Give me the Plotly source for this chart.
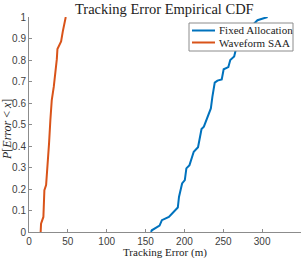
import plotly.graph_objects as go

# Fixed Allocation empirical CDF (tracking error in m, probability)
fixed_x = [157, 158, 168, 171, 180, 191.5, 193, 197, 200.5, 202.5, 206.5, 212, 217.5,
           222, 225, 231, 234, 236, 239, 242.5, 248, 250.5, 256.5, 259, 264, 266,
           272, 280, 287, 294, 307]
fixed_p = [0.0, 0.008, 0.03, 0.055, 0.07, 0.114, 0.163, 0.226, 0.241, 0.296, 0.311, 0.373, 0.394,
           0.479, 0.49, 0.544, 0.575, 0.63, 0.695, 0.704, 0.71, 0.757, 0.767, 0.80, 0.816, 0.847,
           0.88, 0.92, 0.96, 0.985, 1.0]

# Waveform SAA empirical CDF
saa_x = [15, 15.5, 18.5, 19.8, 22, 23.7, 25.8, 27.5, 29.3, 31.9, 34.5, 35.8, 36.6, 40,
         41.3, 43.5, 45.6, 47.3]
saa_p = [0.0, 0.039, 0.07, 0.195, 0.218, 0.288, 0.412, 0.521, 0.614, 0.676, 0.746, 0.804, 0.851, 0.879,
         0.886, 0.933, 0.964, 1.0]

series_names = ["Fixed Allocation", "Waveform SAA"]
series_colors = ["#0072BD", "#D95319"]

x_ticks = [0, 50, 100, 150, 200, 250, 300, 350]
y_ticks = [0, 0.1, 0.2, 0.3, 0.4, 0.5, 0.6, 0.7, 0.8, 0.9, 1]
y_tick_text = ["0", "0.1", "0.2", "0.3", "0.4", "0.5", "0.6", "0.7", "0.8", "0.9", "1"]

W, H = 307, 258
ml, mr, mt, mb = 29, 6, 17, 26
PW, PH = W - ml - mr, H - mt - mb


def px_x(px):
    return (px - ml) / PW


def px_y(py):
    return (H - mb - py) / PH


fig = go.Figure()
for xs, ps, name, color in zip([fixed_x, saa_x], [fixed_p, saa_p], series_names, series_colors):
    fig.add_trace(go.Scatter(x=xs, y=ps, mode="lines", name=name,
                             line=dict(color=color, width=2), showlegend=False))

axis_common = dict(showgrid=False, zeroline=False, showline=True, linecolor="#8c8c8c",
                   linewidth=1, ticks="inside", ticklen=3, tickcolor="#8c8c8c",
                   tickfont=dict(family="Liberation Sans", size=10, color="#404040"),
                   mirror=False)

serif = "Liberation Serif"
shapes = [dict(type="rect", xref="paper", yref="paper",
               x0=px_x(189), x1=px_x(293), y0=px_y(51), y1=px_y(23),
               fillcolor="white", line=dict(color="#8c8c8c", width=1), layer="above")]
annotations = [
    dict(text="Tracking Error Empirical CDF", xref="paper", yref="paper",
         x=px_x(164), y=px_y(8.5), xanchor="center", yanchor="middle", showarrow=False,
         font=dict(family=serif, size=14.5, color="#222222")),
    dict(text="Tracking Error (m)", xref="paper", yref="paper",
         x=px_x(165), y=px_y(252), xanchor="center", yanchor="middle",
         showarrow=False, font=dict(family=serif, size=11, color="#222222")),
    dict(text="<i>P</i>[<i>Error</i> &lt; <i>x</i>]", xref="paper", yref="paper",
         x=px_x(7), y=px_y(130), xanchor="center", yanchor="middle",
         textangle=-90, showarrow=False,
         font=dict(family=serif, size=12, color="#222222")),
]
for i, (name, color) in enumerate(zip(series_names, series_colors)):
    row_y = 30.5 + 12 * i
    shapes.append(dict(type="line", xref="paper", yref="paper",
                       x0=px_x(192), x1=px_x(215), y0=px_y(row_y), y1=px_y(row_y),
                       line=dict(color=color, width=2), layer="above"))
    annotations.append(dict(text=name, xref="paper", yref="paper",
                            x=px_x(217), y=px_y(row_y), xanchor="left", yanchor="middle",
                            showarrow=False,
                            font=dict(family=serif, size=11, color="#222222")))

fig.update_layout(
    width=W, height=H,
    margin=dict(l=ml, r=mr, t=mt, b=mb, autoexpand=False),
    paper_bgcolor="white", plot_bgcolor="white",
    xaxis=dict(range=[0, 350], tickvals=x_ticks, **axis_common),
    yaxis=dict(range=[0, 1], tickvals=y_ticks, ticktext=y_tick_text, **axis_common),
    showlegend=False,
    shapes=shapes,
    annotations=annotations,
)

fig.write_html("out.html", config={"displayModeBar": False},
               post_script="document.body.style.margin='0';document.body.style.overflow='hidden';")
